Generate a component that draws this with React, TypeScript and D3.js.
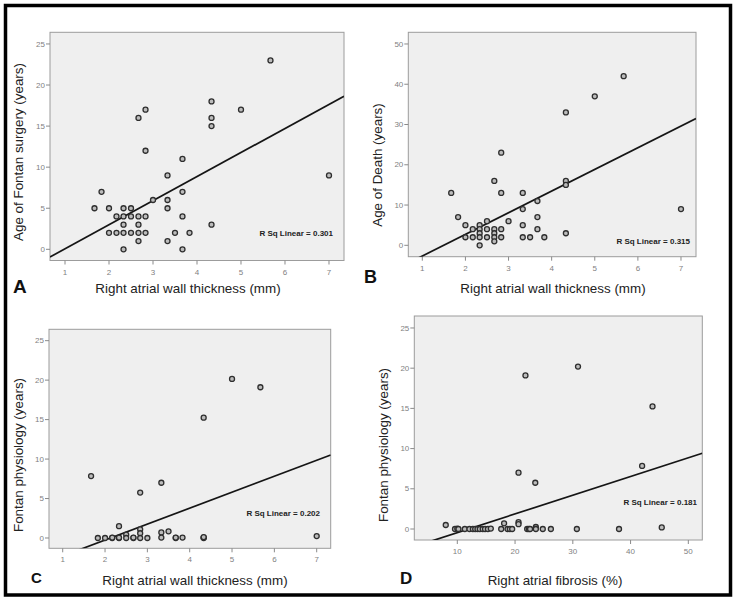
import React from "react";
import * as d3 from "d3";

// ---------- DATA ----------
// Panel A: Right atrial wall thickness (mm) vs Age of Fontan surgery (years)
const thicknessA = [1.67, 1.83, 2.0, 2.0, 2.17, 2.17, 2.33, 2.33, 2.33, 2.33, 2.33, 2.5, 2.5, 2.5, 2.67, 2.67, 2.67, 2.67, 2.67, 2.83, 2.83, 2.83, 2.83, 3.0, 3.33, 3.33, 3.33, 3.33, 3.5, 3.67, 3.67, 3.67, 3.67, 3.83, 4.33, 4.33, 4.33, 4.33, 5.0, 5.67, 7.0];
const fontanAgeA = [5, 7, 5, 2, 4, 2, 5, 4, 3, 2, 0, 5, 4, 2, 16, 4, 3, 2, 1, 17, 12, 4, 2, 6, 9, 6, 5, 1, 2, 11, 7, 4, 0, 2, 18, 16, 15, 3, 17, 23, 9];
const fitA = [-2.87, 2.93];

// Panel B: Right atrial wall thickness (mm) vs Age of Death (years)
const thicknessB = [1.67, 1.83, 2.0, 2.0, 2.17, 2.17, 2.33, 2.33, 2.33, 2.33, 2.33, 2.5, 2.5, 2.5, 2.67, 2.67, 2.67, 2.67, 2.67, 2.83, 2.83, 2.83, 2.83, 3.0, 3.33, 3.33, 3.33, 3.33, 3.5, 3.67, 3.67, 3.67, 3.83, 4.33, 4.33, 4.33, 4.33, 5.0, 5.67, 7.0];
const deathAgeB = [13, 7, 5, 2, 4, 2, 5, 4, 3, 2, 0, 6, 4, 2, 16, 4, 3, 2, 1, 23, 13, 4, 2, 6, 13, 9, 5, 2, 2, 11, 7, 4, 2, 33, 16, 15, 3, 37, 42, 9];
const fitB = [-8.04, 5.38];

// Panel C: Right atrial wall thickness (mm) vs Fontan physiology (years)
const thicknessC = [1.67, 1.83, 2.0, 2.17, 2.17, 2.33, 2.33, 2.33, 2.5, 2.5, 2.67, 2.67, 2.83, 2.83, 2.83, 2.83, 3.0, 3.33, 3.33, 3.33, 3.5, 3.67, 3.67, 3.83, 4.33, 4.33, 4.33, 4.33, 5.0, 5.67, 7.0];
const physiologyC = [7.85, 0, 0, 0, 0.06, 1.5, 0, 0.06, 0.42, 0, 0, 0.06, 5.75, 1.1, 0.6, 0, 0, 7.0, 0.7, 0.05, 0.85, 0, 0.06, 0.05, 15.25, 0, 0.06, 0.12, 20.15, 19.1, 0.25];
const fitC = [-4.3, 2.02];

// Panel D: Right atrial fibrosis (%) vs Fontan physiology (years)
const fibrosisD = [8.0, 9.6, 10.0, 10.2, 11.3, 12.1, 12.7, 13.1, 13.5, 13.9, 14.4, 14.8, 15.3, 15.8, 17.6, 18.1, 18.7, 19.1, 19.5, 20.6, 20.6, 20.6, 21.8, 22.1, 22.4, 22.6, 23.5, 23.6, 23.6, 24.8, 26.2, 30.7, 30.9, 38.0, 42.0, 43.8, 45.4];
const physiologyD = [0.5, 0, 0.05, 0, 0, 0, 0, 0, 0, 0, 0, 0, 0, 0.05, 0, 0.7, 0, 0, 0, 0.85, 0.6, 7.0, 19.1, 0, 0, 0, 5.75, 0.25, 0, 0, 0, 0, 20.2, 0, 7.85, 15.25, 0.2];
const fitD = [-2.78, 0.2327];

const rSquared = ["0.301", "0.315", "0.202", "0.181"];
const panelLetters = ["A", "B", "C", "D"];
const xTitles = ["Right atrial wall thickness (mm)", "Right atrial wall thickness (mm)", "Right atrial wall thickness (mm)", "Right atrial fibrosis (%)"];
const yTitles = ["Age of Fontan surgery (years)", "Age of Death (years)", "Fontan physiology (years)", "Fontan physiology (years)"];
const thicknessTicks = [1, 2, 3, 4, 5, 6, 7];
const fibrosisTicks = [10, 20, 30, 40, 50];
const yTicks25 = [0, 5, 10, 15, 20, 25];
const yTicks50 = [0, 10, 20, 30, 40, 50];

// ---------- LAYOUT ----------
type Panel = {
  xs: number[]; ys: number[]; fit: number[];
  xDomain: [number, number]; yDomain: [number, number];
  frame: [number, number, number, number];
  xTicks: number[]; yTicks: number[];
  rsq: [number, number];
  xTitle: [number, number]; yTitle: [number, number];
  letter: [number, number, number];
};

const panels: Panel[] = [
  {
    xs: thicknessA, ys: fontanAgeA, fit: fitA,
    xDomain: [0.659, 7.341], yDomain: [-1.364, 26.42],
    frame: [50, 32.3, 344, 260.5],
    xTicks: thicknessTicks, yTicks: yTicks25,
    rsq: [333, 236], xTitle: [188, 293], yTitle: [22.5, 152], letter: [13, 293, 19],
  },
  {
    xs: thicknessB, ys: deathAgeB, fit: fitB,
    xDomain: [0.675, 7.348], yDomain: [-2.83, 52.9],
    frame: [408.3, 32.3, 696, 256.7],
    xTicks: thicknessTicks, yTicks: yTicks50,
    rsq: [690, 244], xTitle: [553, 293], yTitle: [381.5, 165], letter: [364, 283, 18],
  },
  {
    xs: thicknessC, ys: physiologyC, fit: fitC,
    xDomain: [0.676, 7.331], yDomain: [-1.305, 26.44],
    frame: [49, 329.3, 330.7, 548.3],
    xTicks: thicknessTicks, yTicks: yTicks25,
    rsq: [320, 516], xTitle: [195, 585], yTitle: [22.5, 455], letter: [31, 583, 15],
  },
  {
    xs: fibrosisD, ys: physiologyD, fit: fitD,
    xDomain: [2.554, 52.42], yDomain: [-1.368, 26.49],
    frame: [414.3, 316, 702.3, 540],
    xTicks: fibrosisTicks, yTicks: yTicks25,
    rsq: [697, 505], xTitle: [555, 585], yTitle: [387.5, 445], letter: [400, 584, 17],
  },
];

const FONT = "'Liberation Sans', Arial, Helvetica, sans-serif";

function PanelView({ p, i }: { p: Panel; i: number }) {
  const [x0, y0, x1, y1] = p.frame;
  const x = d3.scaleLinear().domain(p.xDomain).range([x0, x1]);
  const y = d3.scaleLinear().domain(p.yDomain).range([y1, y0]);
  const lineGen = d3.line<number>().x((v) => x(v)).y((v) => y(p.fit[0] + p.fit[1] * v));
  const clipId = `clip-${i}`;
  return (
    <g>
      <defs>
        <clipPath id={clipId}>
          <rect x={x0} y={y0} width={x1 - x0} height={y1 - y0} />
        </clipPath>
      </defs>
      <rect x={x0} y={y0} width={x1 - x0} height={y1 - y0} fill="#efefef" stroke="#9c9c9c" strokeWidth={1} />
      {p.yTicks.map((t) => (
        <g key={"y" + t}>
          <line x1={x0 - 4} x2={x0} y1={y(t)} y2={y(t)} stroke="#8a8a8a" strokeWidth={1} />
          <text x={x0 - 5} y={y(t)} dy="0.33em" textAnchor="end" fontSize={8} fill="#7f7f7f" fontFamily={FONT}>{t}</text>
        </g>
      ))}
      {p.xTicks.map((t) => (
        <g key={"x" + t}>
          <line x1={x(t)} x2={x(t)} y1={y1} y2={y1 + 4} stroke="#8a8a8a" strokeWidth={1} />
          <text x={x(t)} y={y1 + 14} textAnchor="middle" fontSize={8} fill="#7f7f7f" fontFamily={FONT}>{t}</text>
        </g>
      ))}
      <path d={lineGen(p.xDomain) || ""} clipPath={`url(#${clipId})`} stroke="#151515" strokeWidth={1.7} fill="none" />
      {p.xs.map((xv, k) => (
        <circle key={k} cx={x(xv)} cy={y(p.ys[k])} r={2.5} fill="#bcbcbc" stroke="#2e2e2e" strokeWidth={1.3} />
      ))}
      <text x={p.rsq[0]} y={p.rsq[1]} textAnchor="end" fontSize={8} fontWeight="bold" fill="#222" fontFamily={FONT}>
        {`R Sq Linear = ${rSquared[i]}`}
      </text>
      <text x={p.xTitle[0]} y={p.xTitle[1]} textAnchor="middle" fontSize={13.4} fill="#222" fontFamily={FONT}>{xTitles[i]}</text>
      <text transform={`translate(${p.yTitle[0]},${p.yTitle[1]}) rotate(-90)`} textAnchor="middle" fontSize={13.4} fill="#222" fontFamily={FONT}>{yTitles[i]}</text>
      <text x={p.letter[0]} y={p.letter[1]} fontSize={p.letter[2]} fontWeight="bold" fill="#111" fontFamily={FONT}>{panelLetters[i]}</text>
    </g>
  );
}

export default function App() {
  return (
    <svg width={740} height={604} style={{ position: "absolute", left: 0, top: 0, background: "#fff" }}>
      <rect x={0} y={0} width={740} height={604} fill="#fff" />
      <rect x={5.5} y={5.5} width={725} height={589.5} fill="none" stroke="#000" strokeWidth={3.5} />
      {panels.map((p, i) => (
        <PanelView key={i} p={p} i={i} />
      ))}
    </svg>
  );
}
